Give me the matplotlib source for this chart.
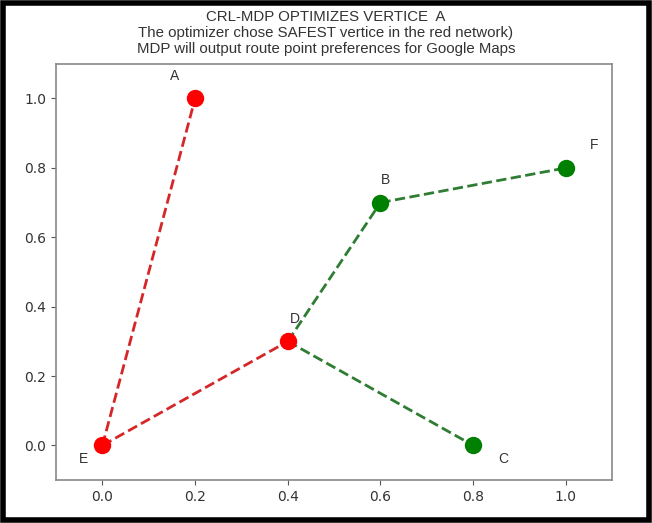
import matplotlib
matplotlib.use("Agg")
import matplotlib.pyplot as plt
from matplotlib.patches import Rectangle

names = ["A", "B", "C", "D", "E", "F"]
xs = [0.2, 0.6, 0.8, 0.4, 0.0, 1.0]
ys = [1.0, 0.7, 0.0, 0.3, 0.0, 0.8]
node_colors = ["red", "green", "green", "red", "red", "green"]
red_edges = [("E", "A"), ("E", "D")]
green_edges = [("D", "B"), ("B", "F"), ("D", "C")]
label_offsets = {"A": (-0.045, 0.065), "B": (0.01, 0.065), "C": (0.065, -0.04),
                 "D": (0.015, 0.065), "E": (-0.04, -0.04), "F": (0.06, 0.065)}

pos = {n: (x, y) for n, x, y in zip(names, xs, ys)}

fig = plt.figure(figsize=(6.52, 5.23), dpi=100)
ax = fig.add_axes([0.086, 0.082, 0.853, 0.796])

for a, b in red_edges:
    ax.plot([pos[a][0], pos[b][0]], [pos[a][1], pos[b][1]], "--", color="#d62728", lw=2, zorder=2)
for a, b in green_edges:
    ax.plot([pos[a][0], pos[b][0]], [pos[a][1], pos[b][1]], "--", color="#2e7d32", lw=2, zorder=2)

for n, x, y, c in zip(names, xs, ys, node_colors):
    ax.plot(x, y, "o", color=c, markersize=11.5, zorder=3)
    dx, dy = label_offsets[n]
    ax.text(x + dx, y + dy, n, ha="center", va="center", fontsize=10, color="#333333",
            family="Liberation Sans")

ax.set_xlim(-0.1, 1.1)
ax.set_ylim(-0.1, 1.1)
ax.set_xticks([0.0, 0.2, 0.4, 0.6, 0.8, 1.0])
ax.set_yticks([0.0, 0.2, 0.4, 0.6, 0.8, 1.0])
ax.tick_params(colors="#555555", labelcolor="#333333", labelsize=10)
for s in ax.spines.values():
    s.set_color("#888888")
    s.set_linewidth(1.2)

title_kw = dict(ha="center", va="center", fontsize=10.8, color="#333333", family="Liberation Sans")
fig.text(0.5, 0.967, "CRL-MDP OPTIMIZES VERTICE  A", **title_kw)
fig.text(0.5, 0.937, "The optimizer chose SAFEST vertice in the red network)", **title_kw)
fig.text(0.5, 0.907, "MDP will output route point preferences for Google Maps", **title_kw)

fig.patches.append(Rectangle((0.004, 0.005), 0.992, 0.99, transform=fig.transFigure,
                             fill=False, edgecolor="black", linewidth=4))

fig.savefig("out.png", dpi=100)
